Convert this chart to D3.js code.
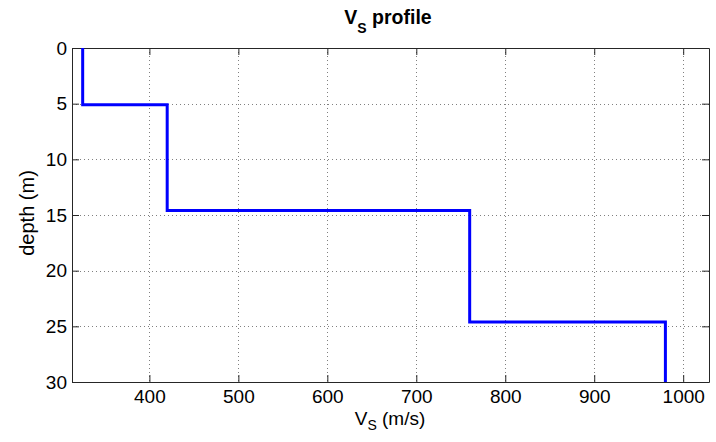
<!DOCTYPE html>
<html>
<head>
<meta charset="utf-8">
<script src="https://cdn.jsdelivr.net/npm/d3@7"></script>
<style>
  html, body { margin: 0; padding: 0; background: #fff; }
  svg { display: block; font-family: "Liberation Sans", Arial, sans-serif; }
</style>
</head>
<body>
<svg id="chart" width="716" height="442"></svg>
<script>
// Layer data
const layerVs = [325, 420, 760, 980];           // m/s
const layerTops = [0, 5.1, 14.6, 24.6];          // m
const layerBottoms = [5.1, 14.6, 24.6, 30];      // m
const xTicks = [400, 500, 600, 700, 800, 900, 1000];
const yTicks = [0, 5, 10, 15, 20, 25, 30];

(function () {
const svg = d3.select("#chart");
const L = 72, R = 709, T = 48, B = 382;
const x = d3.scaleLinear().domain([313, 1029]).range([L, R]);
const y = d3.scaleLinear().domain([0, 30]).range([T, B]);

// grid
const grid = svg.append("g");
grid.selectAll("line.gx").data(xTicks).join("line")
  .attr("x1", d => Math.round(x(d)) + 0.5).attr("x2", d => Math.round(x(d)) + 0.5)
  .attr("y1", T).attr("y2", B)
  .attr("stroke", "#808080").attr("stroke-width", 1).attr("stroke-dasharray", "1,3");
grid.selectAll("line.gy").data(yTicks.filter(d => d > 0 && d < 30)).join("line")
  .attr("y1", d => Math.round(y(d)) + 0.5).attr("y2", d => Math.round(y(d)) + 0.5)
  .attr("x1", L).attr("x2", R)
  .attr("stroke", "#808080").attr("stroke-width", 1).attr("stroke-dasharray", "1,3");

// axes (MATLAB style, ticks inward on all sides)
const axCol = "#262626";
const fmt = d3.format("d");
const gBottom = svg.append("g").attr("transform", `translate(0,${B})`)
  .call(d3.axisBottom(x).tickValues(xTicks).tickFormat(fmt).tickSizeInner(-7).tickSizeOuter(0).tickPadding(8));
const gTop = svg.append("g").attr("transform", `translate(0,${T})`)
  .call(d3.axisTop(x).tickValues(xTicks).tickSizeInner(-7).tickSizeOuter(0).tickFormat(""));
const gLeft = svg.append("g").attr("transform", `translate(${L},0)`)
  .call(d3.axisLeft(y).tickValues(yTicks).tickFormat(fmt).tickSizeInner(-7).tickSizeOuter(0).tickPadding(5));
const gRight = svg.append("g").attr("transform", `translate(${R},0)`)
  .call(d3.axisRight(y).tickValues(yTicks).tickSizeInner(-7).tickSizeOuter(0).tickFormat(""));
[gBottom, gTop, gLeft, gRight].forEach(g => {
  g.selectAll("path,line").attr("stroke", axCol);
  g.selectAll("text").attr("fill", "#000").attr("font-size", 19)
    .attr("font-family", "'Liberation Sans', Arial, sans-serif");
});

// profile line
const pts = [];
layerVs.forEach((v, i) => {
  pts.push([v, layerTops[i]]);
  pts.push([v, layerBottoms[i]]);
});
svg.append("path")
  .datum(pts)
  .attr("fill", "none")
  .attr("stroke", "#0000ff")
  .attr("stroke-width", 3)
  .attr("stroke-linejoin", "miter")
  .attr("d", d3.line().x(d => x(d[0])).y(d => y(d[1])));

// title
const title = svg.append("text").attr("x", 388).attr("y", 24)
  .attr("text-anchor", "middle").attr("font-size", 19.5).attr("font-weight", "bold");
title.append("tspan").text("V");
title.append("tspan").attr("font-size", 14).attr("dy", 9).text("S");
title.append("tspan").attr("dy", -9).text(" profile");

// x label
const xl = svg.append("text").attr("x", 390).attr("y", 425)
  .attr("text-anchor", "middle").attr("font-size", 19);
xl.append("tspan").text("V");
xl.append("tspan").attr("font-size", 14).attr("dy", 5).text("S");
xl.append("tspan").attr("dy", -5).text(" (m/s)");

// y label
svg.append("text")
  .attr("transform", `translate(34,213) rotate(-90)`)
  .attr("text-anchor", "middle").attr("font-size", 20).text("depth (m)");
})();
</script>
</body>
</html>
